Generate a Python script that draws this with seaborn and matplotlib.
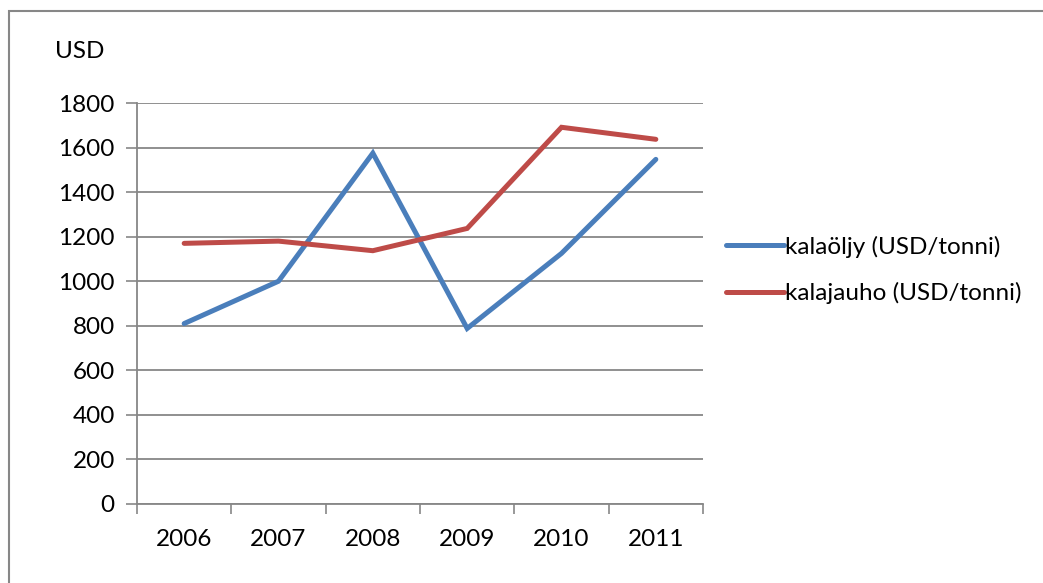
import matplotlib
matplotlib.use("Agg")
import matplotlib.pyplot as plt
import seaborn as sns
import pandas as pd
from matplotlib.patches import Rectangle
from matplotlib.ticker import FixedLocator

years = ["2006", "2007", "2008", "2009", "2010", "2011"]
kalaoljy = [810, 1000, 1575, 788, 1125, 1547]
kalajauho = [1170, 1180, 1137, 1237, 1691, 1637]
series_names = ["kalaöljy (USD/tonni)", "kalajauho (USD/tonni)"]
colors = ["#4A7EBB", "#BE4B48"]
y_ticks = [0, 200, 400, 600, 800, 1000, 1200, 1400, 1600, 1800]

sns.set_theme(style="white")
plt.rcParams["font.family"] = ["Lato", "DejaVu Sans"]

df = pd.DataFrame({
    "pos": list(range(len(years))) * 2,
    "value": kalaoljy + kalajauho,
    "series": [series_names[0]] * len(years) + [series_names[1]] * len(years),
})

fig = plt.figure(figsize=(10.43, 5.83), dpi=100)
ax = fig.add_axes([137 / 1043, 1 - 504 / 583, (703 - 137) / 1043, (504 - 103) / 583])

sns.lineplot(data=df, x="pos", y="value", hue="series", palette=colors,
             linewidth=3.6, ax=ax, legend=False, solid_capstyle="round",
             solid_joinstyle="miter")

gray = "#878787"
fs = 17.5
tc = "#000000"
ax.set_xlim(-0.5, len(years) - 0.5)
ax.set_ylim(0, 1800)
ax.set_yticks(y_ticks)
ax.set_yticklabels([str(v) for v in y_ticks], fontsize=fs, color=tc)
ax.set_xticks(range(len(years)))
ax.set_xticklabels(years, fontsize=fs, color=tc)
ax.xaxis.set_minor_locator(FixedLocator([i - 0.5 for i in range(len(years) + 1)]))
ax.tick_params(axis="x", which="major", bottom=True, length=0, pad=18)
ax.tick_params(axis="x", which="minor", bottom=True, length=7, width=1.2, color=gray, direction="out")
ax.tick_params(axis="y", which="major", left=True, length=8, width=1.2, color=gray, direction="out", pad=8)
ax.grid(axis="y", color=gray, linewidth=1.3)
ax.set_axisbelow(True)
for s in ["top", "right"]:
    ax.spines[s].set_visible(False)
for s in ["left", "bottom"]:
    ax.spines[s].set_color(gray)
    ax.spines[s].set_linewidth(1.3)
ax.set_xlabel("")
ax.set_ylabel("")

fig.text(55 / 1043, 1 - 52 / 583, "USD", fontsize=fs, color=tc, va="center", ha="left")

# legend
handles = [plt.Line2D([0], [0], color=c, linewidth=3.6, solid_capstyle="round") for c in colors]
fig.legend(handles, series_names, loc="center left", bbox_to_anchor=(704 / 1043, 1 - 270 / 583),
           frameon=False, fontsize=fs, handlelength=2.4, handletextpad=0.05, labelspacing=1.0,
           labelcolor=tc)

fig.patches.append(Rectangle((9 / 1043, -0.05), 1.2, 1 - 11 / 583 + 0.05, transform=fig.transFigure,
                             fill=False, edgecolor=gray, linewidth=1.5))

fig.savefig("out.png", dpi=100)
